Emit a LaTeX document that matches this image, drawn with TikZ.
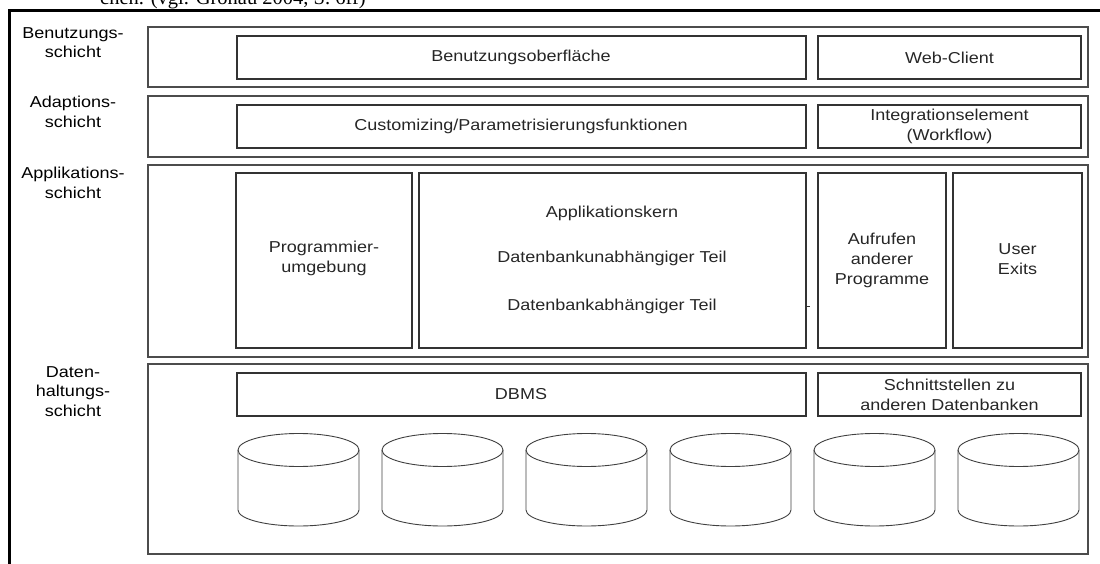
\documentclass[tikz,border=0pt]{standalone}
\usepackage{fontspec}
\setmainfont{Liberation Sans}[FakeStretch=1.14]
\newfontfamily\serifcap{Liberation Serif}
\begin{document}
\begin{tikzpicture}[x=1pt,y=-1pt,
  band/.style={draw=black!70,line width=1.3pt},
  inbox/.style={draw=black!80,line width=1.1pt},
  txt/.style={font=\fontsize{15.8}{20}\selectfont,text=black!85,align=center,inner sep=0pt},
  lbl/.style={font=\fontsize{15.8}{19.5}\selectfont,text=black,align=center,inner sep=0pt,anchor=north},
  cyl/.style={draw=black!75,line width=0.9pt}]
\useasboundingbox (0,0) rectangle (1100,564);
% cropped caption above the frame
\node[font=\serifcap\fontsize{20.5}{24}\selectfont,anchor=base west,inner sep=0pt] (cap) at (100,5) {chen. (vgl. Gronau 2004, S. 6ff)};
% frame
\draw[line width=3.5pt] (9.5,570) -- (9.5,10.5) -- (1110,10.5);
% bands
\draw[band] (148,27) rectangle (1088,87);
\draw[band] (148,96) rectangle (1088,157);
\draw[band] (148,165) rectangle (1088,357);
\draw[band] (148,364) rectangle (1088,554);
% left labels
\node[lbl] (l1) at (73,27) {Benutzungs-\\schicht};
\node[lbl] (l2) at (73,96) {Adaptions-\\schicht};
\node[lbl] (l3) at (73,167) {Applikations-\\schicht};
\node[lbl] (l4) at (73,366) {Daten-\\haltungs-\\schicht};
% inner boxes
\draw[inbox] (237,36) rectangle (806,79);
\node[txt] (bo) at (521,57.5) {Benutzungsoberfläche};
\draw[inbox] (818,36) rectangle (1081,79);
\node[txt] (wc) at (949.5,57.5) {Web-Client};
\draw[inbox] (237,105) rectangle (806,148);
\node[txt] (cp) at (521,126.5) {Customizing/Parametrisierungsfunktionen};
\draw[inbox] (818,105) rectangle (1081,148);
\node[txt] (ie) at (949.5,126.5) {Integrationselement\\(Workflow)};
\draw[inbox] (236,173) rectangle (412,348);
\node[txt] (pu) at (324,258) {Programmier-\\umgebung};
\draw[inbox] (419,173) rectangle (806,348);
\node[txt] (ak1) at (612,213) {Applikationskern};
\node[txt] (ak2) at (612,258) {Datenbankunabhängiger Teil};
\node[txt] (ak3) at (612,306) {Datenbankabhängiger Teil};
\coordinate (tk) at (810,306);
\draw[black!80,line width=0.8pt] (806,306) -- (tk);
\draw[inbox] (818,173) rectangle (946,348);
\node[txt] (ap) at (882,260.5) {Aufrufen\\anderer\\Programme};
\draw[inbox] (953,173) rectangle (1082,348);
\node[txt] (ue) at (1017.5,259.5) {User\\Exits};
\draw[inbox] (237,373) rectangle (806,416);
\node[txt] (db) at (521,394.5) {DBMS};
\draw[inbox] (818,373) rectangle (1081,416);
\node[txt] (sz) at (949.5,394.5) {Schnittstellen zu\\anderen Datenbanken};
% cylinders
\foreach \i in {0,...,5}{
  \pgfmathsetmacro{\xl}{238+144*\i}
  \pgfmathsetmacro{\xc}{\xl+60.5}
  \draw[cyl] (\xc,450) ellipse [x radius=60.5,y radius=16.5];
  \draw[cyl] (\xl,450) -- (\xl,510) arc[start angle=180,end angle=0,x radius=60.5,y radius=16] -- (\xl+121,450);
}
\end{tikzpicture}
\end{document}
